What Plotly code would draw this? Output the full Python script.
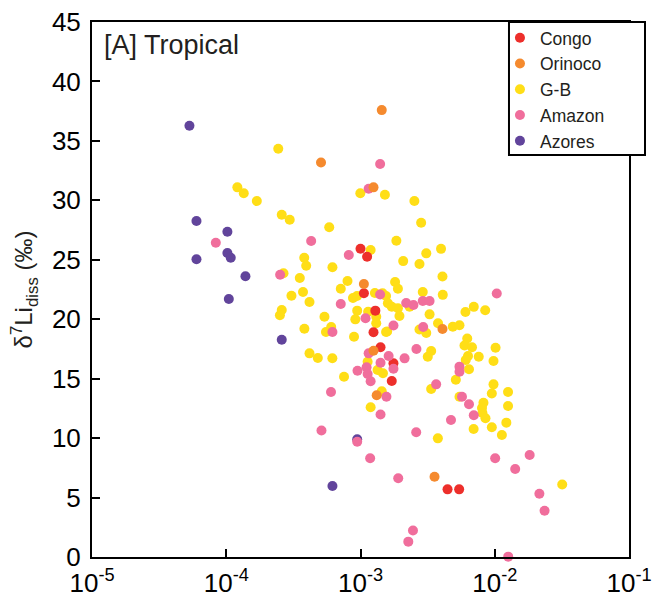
import plotly.graph_objects as go

# ---------------- data ----------------
congo_x = [1.0e-3, 1.12e-3, 1.06e-3, 1.29e-3, 1.25e-3, 1.41e-3, 1.76e-3, 1.71e-3, 4.45e-3, 5.43e-3]
congo_y = [25.93, 25.26, 22.18, 20.72, 18.90, 17.64, 16.29, 14.80, 5.69, 5.69]

orinoco_x = [1.44e-3, 5.08e-4, 1.25e-3, 1.06e-3, 1.25e-3, 1.32e-3, 4.08e-3, 3.56e-3]
orinoco_y = [37.59, 33.18, 31.09, 22.96, 17.35, 13.60, 19.18, 6.75]

gb_x = [2.44e-4, 1.21e-4, 1.35e-4, 1.69e-4, 2.59e-4, 2.97e-4, 5.85e-4, 3.81e-4, 3.94e-4, 6.18e-4,
        2.67e-4, 3.53e-4, 3.06e-4, 3.73e-4, 4.17e-4, 2.59e-4, 2.51e-4, 5.39e-4, 3.82e-4, 5.53e-4,
        6.05e-4, 4.17e-4, 4.81e-4, 6.17e-4, 9.97e-4, 1.52e-3, 2.52e-3, 2.83e-3, 1.85e-3, 1.19e-3,
        3.09e-3, 3.98e-3, 2.08e-3, 2.75e-3, 8.0e-4, 7.13e-4, 1.81e-3, 1.90e-3, 4.08e-3, 8.79e-4,
        9.42e-4, 1.28e-3, 1.46e-3, 2.91e-3, 4.10e-3, 9.45e-4, 1.14e-3, 9.15e-4, 1.31e-3, 1.31e-3,
        1.55e-3, 1.55e-3, 8.95e-4, 1.13e-3, 1.34e-3, 1.47e-3, 7.54e-4, 1.44e-3, 1.19e-3, 1.60e-3,
        1.71e-3, 1.90e-3, 2.32e-3, 1.95e-3, 3.27e-3, 6.05e-3, 6.98e-3, 8.49e-3, 1.58e-3, 2.75e-3,
        3.09e-3, 3.78e-3, 4.87e-3, 5.46e-3, 6.24e-3, 5.95e-3, 6.77e-3, 1.014e-2, 3.36e-3, 3.17e-3,
        6.32e-3, 6.08e-3, 7.60e-3, 9.79e-3, 6.43e-3, 5.13e-3, 3.36e-3, 9.79e-3, 9.51e-3, 1.256e-2,
        1.256e-2, 8.24e-3, 8.04e-3, 8.10e-3, 8.53e-3, 6.96e-3, 9.51e-3, 1.13e-2, 1.22e-2, 3.77e-3,
        3.18e-2, 5.46e-3]
gb_y = [34.34, 31.09, 30.59, 29.94, 28.79, 28.37, 27.74, 25.17, 24.50, 24.37,
        23.86, 23.47, 21.98, 22.29, 21.45, 20.77, 20.33, 20.21, 19.20, 18.92,
        19.34, 17.13, 16.74, 16.72, 30.60, 30.47, 29.94, 28.11, 26.60, 25.82,
        25.54, 25.92, 24.89, 24.64, 23.21, 22.57, 23.13, 22.56, 23.59, 21.78,
        21.95, 22.20, 22.18, 22.29, 22.05, 20.72, 20.63, 19.99, 20.21, 19.66,
        21.95, 18.92, 18.53, 16.43, 15.73, 15.45, 15.16, 13.94, 12.59, 21.34,
        21.05, 20.92, 21.05, 20.27, 20.41, 20.61, 21.04, 20.75, 18.97, 19.13,
        18.84, 19.66, 19.37, 19.49, 18.38, 17.79, 17.64, 17.60, 17.33, 16.85,
        16.91, 16.57, 16.85, 16.48, 15.79, 14.91, 14.13, 14.52, 13.75, 13.88,
        12.70, 12.98, 12.53, 12.11, 11.67, 10.77, 10.91, 10.26, 11.30, 9.98,
        6.10, 13.48]

amazon_x = [1.40e-3, 1.15e-3, 4.29e-4, 8.36e-5, 8.18e-4, 2.52e-4, 1.40e-3, 7.13e-4, 1.09e-3, 6.18e-4,
            1.15e-3, 1.41e-3, 1.11e-3, 9.5e-4, 1.13e-3, 1.19e-3, 6.03e-4, 1.56e-3, 1.41e-3, 5.12e-4,
            9.45e-4, 1.18e-3, 1.91e-3, 2.46e-3, 2.27e-3, 1.035e-2, 2.19e-3, 2.48e-3, 2.91e-3, 3.27e-3,
            1.76e-3, 2.93e-3, 2.61e-3, 2.13e-3, 1.62e-3, 1.76e-3, 5.46e-3, 5.46e-3, 3.66e-3, 5.70e-3,
            6.43e-3, 6.98e-3, 4.72e-3, 2.60e-3, 1.007e-2, 1.82e-2, 1.42e-2, 2.15e-2, 2.35e-2, 1.26e-2]
amazon_y = [33.05, 30.98, 26.58, 26.43, 25.40, 23.74, 22.08, 21.28, 20.08, 18.92,
            17.13, 16.34, 15.95, 15.67, 15.39, 14.78, 13.88, 13.48, 11.98, 10.64,
            9.70, 8.30, 6.62, 2.23, 1.29, 22.16, 21.36, 21.19, 21.53, 21.53,
            19.47, 19.34, 17.49, 16.71, 16.91, 15.84, 16.01, 15.58, 14.52, 13.48,
            12.85, 11.92, 11.52, 10.50, 8.30, 8.58, 7.40, 5.32, 3.89, 0.03]

azores_x = [5.32e-5, 6.0e-5, 1.02e-4, 1.02e-4, 1.08e-4, 6.0e-5, 1.39e-4, 1.045e-4, 2.59e-4, 9.45e-4, 6.18e-4]
azores_y = [36.27, 28.26, 27.36, 25.57, 25.17, 25.04, 23.61, 21.70, 18.28, 9.90, 5.97]

x_tickvals = [1e-5, 1e-4, 1e-3, 1e-2, 1e-1]
x_ticktext = ["10<sup>-5</sup>", "10<sup>-4</sup>", "10<sup>-3</sup>", "10<sup>-2</sup>", "10<sup>-1</sup>"]

# ---------------- figure ----------------
FONT = "Liberation Sans, Arial, Helvetica, sans-serif"
TXT = "#231F20"

series = [
    # name, x, y, color, legend rank  (drawing order bottom -> top)
    ("G-B", gb_x, gb_y, "#FFDE17", 3),
    ("Azores", azores_x, azores_y, "#61449B", 5),
    ("Congo", congo_x, congo_y, "#ED2F2B", 1),
    ("Amazon", amazon_x, amazon_y, "#F06E9C", 4),
    ("Orinoco", orinoco_x, orinoco_y, "#F58A2E", 2),
]

fig = go.Figure()
for name, xs, ys, color, rank in series:
    fig.add_trace(go.Scatter(
        x=xs, y=ys, mode="markers", name=name, legendrank=rank,
        marker=dict(size=10, color=color, line=dict(width=0)),
        cliponaxis=False,
    ))

axis_common = dict(
    showline=True, linecolor="black", linewidth=2, mirror=True,
    ticks="inside", ticklen=8, tickwidth=2, tickcolor="black",
    showgrid=False, zeroline=False, automargin=False,
    tickfont=dict(family=FONT, size=26, color="black"),
)

fig.update_layout(
    width=653, height=599,
    margin=dict(l=92, r=24, t=22, b=42, autoexpand=False),
    paper_bgcolor="white", plot_bgcolor="white",
    font=dict(family=FONT, color=TXT),
    showlegend=True,
    xaxis=dict(type="log", range=[-5, -1], tickvals=x_tickvals, ticktext=x_ticktext,
               ticklabelstandoff=2, **axis_common),
    yaxis=dict(range=[0, 45], tick0=0, dtick=5, ticklabelstandoff=4,
               title=dict(text="δ<sup>7</sup>Li<sub>diss</sub> (‰)",
                          font=dict(family=FONT, size=24, color=TXT), standoff=12),
               **axis_common),
    legend=dict(x=0.7597, xanchor="left", y=1.004, yanchor="top",
                bgcolor="rgba(0,0,0,0)", borderwidth=0,
                font=dict(family=FONT, size=17.5, color=TXT),
                tracegroupgap=0),
    shapes=[dict(type="rect", xref="paper", yref="paper",
                 x0=0.7765, x1=1.0298, y0=0.7514, y1=1.0,
                 fillcolor="white", line=dict(color="black", width=2), layer="above")],
    annotations=[dict(text="[A] Tropical", xref="paper", yref="paper",
                      x=0.018, y=0.957, xanchor="left", yanchor="middle", showarrow=False,
                      font=dict(family=FONT, size=27, color=TXT))],
)

fig.write_html("out.html")
